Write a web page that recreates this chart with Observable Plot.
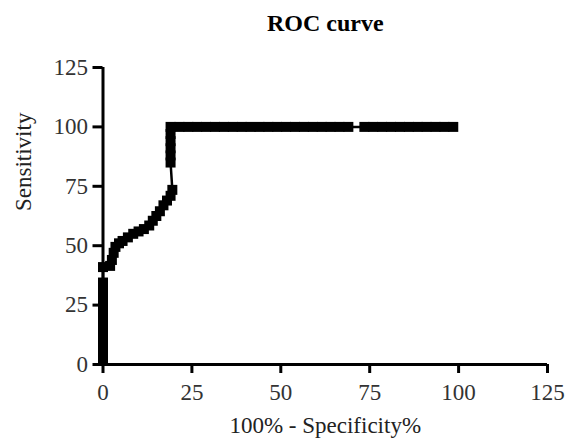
<!DOCTYPE html>
<html>
<head>
<meta charset="utf-8">
<script src="https://cdn.jsdelivr.net/npm/d3@7"></script>
<script src="https://cdn.jsdelivr.net/npm/@observablehq/plot@0.6"></script>
<style>
  html, body { margin: 0; padding: 0; background: #fff; }
  #chart svg { display: block; }
</style>
</head>
<body>
<div id="chart"></div>
<script>
// ROC curve points: 100% - Specificity% (x) and Sensitivity (y), in curve order
const fpr = [
  0, 0, 0, 0, 0, 0, 0, 0, 0, 0, 0, 0,
  0, 2, 2.5, 3, 3.5, 4.5, 5.5, 7, 8.5, 10, 11.5, 13, 14, 15, 16, 17, 18, 19, 19.5,
  19, 19, 19, 19, 19, 19,
  21.5, 24, 26.5, 29, 31.5, 34, 36.5, 39, 41.5, 44, 46.5, 49, 51.5, 54, 56.5, 59, 61.5, 64, 66.5, 69,
  73.5, 76, 78.5, 81, 83.5, 86, 88.5, 91, 93.5, 96, 98.5
];
const sensitivity = [
  2, 5, 8, 11, 14, 17, 20, 23, 26, 29, 32, 34.5,
  41, 41.5, 44, 47, 49.5, 51, 52, 53.5, 55, 56, 57, 58.5, 60.5, 62.5, 64.5, 67, 69, 71, 73.5,
  85, 88, 91, 94, 97, 100,
  100, 100, 100, 100, 100, 100, 100, 100, 100, 100, 100, 100, 100, 100, 100, 100, 100, 100, 100, 100,
  100, 100, 100, 100, 100, 100, 100, 100, 100, 100, 100
];
const xTicks = [0, 25, 50, 75, 100, 125];
const yTicks = [0, 25, 50, 75, 100, 125];
const titleText = "ROC curve";
const xLabel = "100% - Specificity%";
const yLabel = "Sensitivity";

const points = fpr.map((x, i) => ({x, y: sensitivity[i]}));
const serif = "'Liberation Serif', 'DejaVu Serif', serif";

const chart = Plot.plot({
  width: 568,
  height: 438,
  marginLeft: 102.5,
  marginRight: 21,
  marginTop: 67,
  marginBottom: 74,
  style: {fontFamily: serif, background: "#fff", color: "#000"},
  x: {domain: [0, 125], label: null},
  y: {domain: [0, 125], label: null},
  marks: [
    Plot.axisX({ticks: xTicks, tickSize: 9, tickPadding: 10, strokeWidth: 3, fontSize: 23, fill: "#333", tickFormat: d => String(d)}),
    Plot.axisY({ticks: yTicks, tickSize: 10, tickPadding: 5, strokeWidth: 3, fontSize: 23, fill: "#333", tickFormat: d => String(d)}),
    Plot.ruleY([0], {x1: 0, x2: 125, strokeWidth: 3}),
    Plot.ruleX([0], {y1: 0, y2: 125, strokeWidth: 3}),
    Plot.line(points, {x: "x", y: "y", stroke: "#000", strokeWidth: 2.5}),
    Plot.dot(points, {x: "x", y: "y", symbol: "square", r: 5.64, fill: "#000", stroke: "none"}),
    Plot.text([titleText], {frameAnchor: "top", dy: -44, lineAnchor: "middle", fontSize: 24, fontWeight: "bold", fill: "#000"}),
    Plot.text([xLabel], {frameAnchor: "bottom", dy: 61, lineAnchor: "middle", fontSize: 23, fill: "#222"}),
    Plot.text([yLabel], {frameAnchor: "left", dx: -79, dy: -5, rotate: -90, lineAnchor: "middle", fontSize: 23, fill: "#222"})
  ]
});
document.getElementById("chart").appendChild(chart);
</script>
</body>
</html>
